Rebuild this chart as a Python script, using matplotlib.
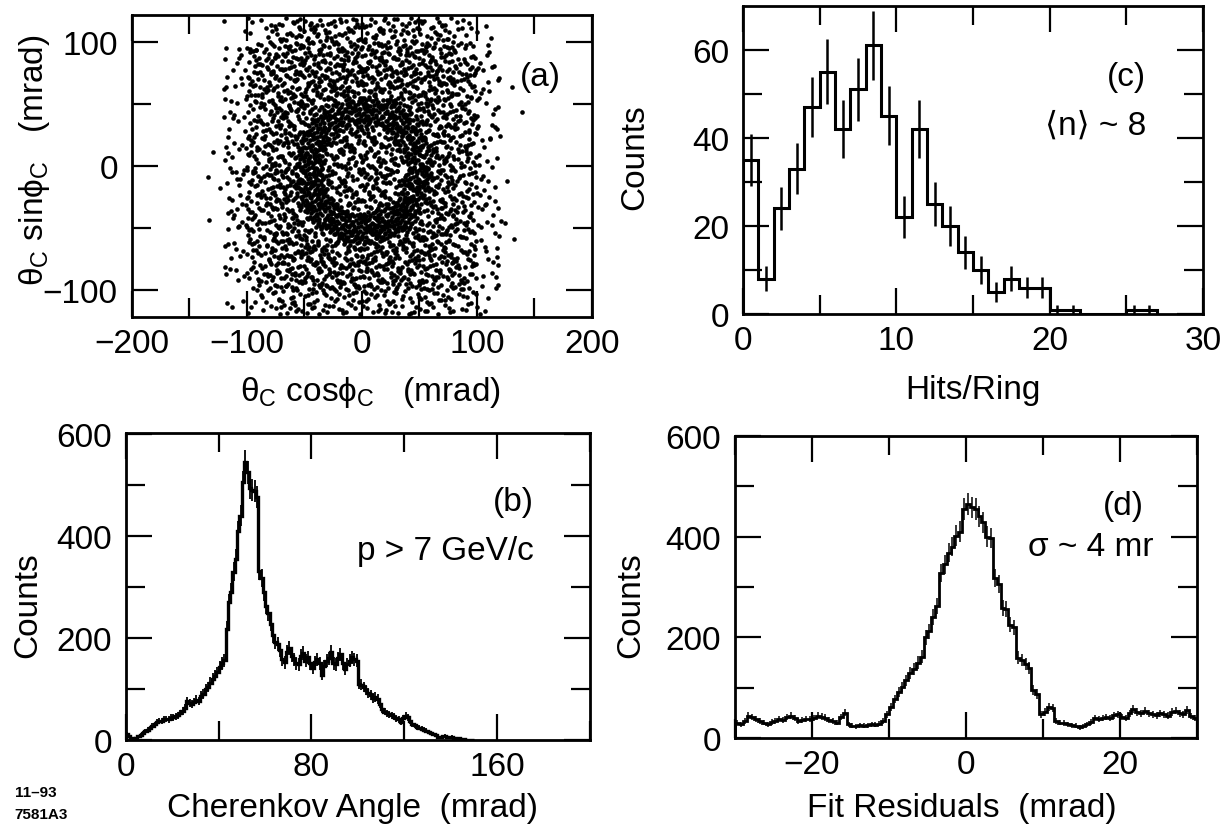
import numpy as np
import matplotlib.pyplot as plt

plt.rcParams['font.family'] = ['Liberation Sans', 'DejaVu Sans']
plt.rcParams['mathtext.fontset'] = 'custom'
plt.rcParams['mathtext.rm'] = 'Liberation Sans'
plt.rcParams['mathtext.it'] = 'Liberation Sans'
plt.rcParams['mathtext.default'] = 'regular'

# ---- (a) ring image: hits per 20x20 mrad cell, rows top (y=120) to bottom
cell_x_edges = np.arange(-140, 141, 20)
cell_y_edges = np.arange(120, -121, -20)
cell_counts = [
    [0, 2, 9, 16, 18, 18, 18, 18, 18, 18, 16, 9, 2, 0],
    [0, 6, 18, 25, 27, 27, 27, 27, 27, 27, 25, 18, 6, 1],
    [0, 7, 20, 27, 29, 29, 29, 29, 29, 29, 27, 20, 7, 1],
    [0, 8, 20, 27, 27, 25, 25, 25, 25, 27, 27, 20, 7, 1],
    [1, 8, 20, 27, 25, 25, 25, 25, 25, 25, 27, 20, 7, 0],
    [1, 8, 20, 27, 25, 25, 25, 25, 25, 25, 27, 19, 6, 0],
    [2, 8, 20, 27, 25, 25, 25, 25, 25, 25, 27, 19, 6, 1],
    [0, 8, 20, 27, 25, 25, 25, 25, 25, 25, 27, 19, 7, 0],
    [1, 7, 20, 27, 27, 25, 25, 25, 25, 27, 27, 19, 7, 1],
    [0, 7, 18, 27, 29, 29, 29, 29, 29, 29, 27, 19, 7, 0],
    [0, 6, 16, 25, 27, 27, 27, 27, 27, 27, 25, 18, 7, 1],
    [0, 2, 9, 14, 16, 16, 16, 16, 16, 16, 14, 9, 3, 0],
]
# extra hits on the Cherenkov ring, per 22.5 deg sector starting at +x
ring_center = (2, -3)
ring_radius = 48
ring_width = 24
ring_sector_counts = [30, 28, 30, 32, 30, 30, 34, 36, 36, 34, 36, 38, 40, 38, 36, 32]

# ---- (b) Cherenkov angle, 1 mrad bins from 0
cher_counts = [
    12, 7, 4, 2, 4, 7, 10, 13, 17, 20,
    23, 27, 30, 34, 37, 36, 40, 41, 40, 43,
    44, 46, 48, 52, 56, 62, 76, 72, 70, 74,
    78, 76, 86, 90, 99, 104, 112, 120, 126, 132,
    142, 150, 156, 218, 270, 290, 330, 355, 410, 440,
    505, 545, 525, 495, 490, 488, 476, 332, 318, 290,
    262, 248, 228, 205, 192, 187, 176, 158, 152, 172,
    180, 165, 158, 150, 148, 165, 170, 155, 162, 150,
    140, 152, 158, 150, 128, 145, 155, 160, 172, 150,
    148, 160, 168, 150, 138, 148, 155, 162, 158, 155,
    110, 108, 104, 98, 92, 88, 82, 84, 80, 70,
    60, 55, 52, 50, 48, 45, 42, 40, 35, 42,
    47, 44, 36, 30, 28, 25, 24, 22, 20, 18,
    16, 14, 12, 10, 6, 5, 7, 8, 6, 5,
    6, 3, 2, 3, 1, 1, 0, 0, 0, 0,
]

# ---- (c) hits per ring, unit bins from 0
hits_counts = [35, 8, 24, 33, 47, 55, 42, 51, 61, 45, 22, 42, 25, 20,
               14, 10, 5, 8, 6, 6, 1, 1, 0, 0, 0, 1, 1]

# ---- (d) fit residuals, 0.5 mrad bins from -30
resid_counts = [
    30, 28, 35, 45, 42, 38, 34, 31, 28, 32,
    35, 38, 37, 42, 45, 40, 35, 37, 38, 38,
    40, 45, 43, 41, 37, 35, 31, 42, 51, 28,
    25, 24, 26, 25, 26, 28, 27, 29, 35, 48,
    62, 78, 92, 102, 115, 130, 138, 150, 162, 200,
    212, 240, 262, 328, 345, 368, 380, 402, 410, 455,
    465, 458, 455, 440, 428, 400, 398, 318, 306, 258,
    256, 225, 220, 160, 155, 148, 140, 95, 88, 48,
    52, 62, 60, 34, 31, 30, 28, 26, 25, 22,
    24, 28, 32, 40, 38, 40, 42, 40, 46, 48,
    42, 40, 50, 58, 52, 50, 55, 50, 48, 46,
    50, 48, 45, 52, 55, 50, 48, 56, 44, 40,
]

FS = 24


def halton(n, base):
    # radical inverse of 1..n in the given base (deterministic, low discrepancy)
    i = np.arange(1, n + 1)
    out = np.zeros(n)
    f = 1.0 / base
    while np.any(i > 0):
        out += f * (i % base)
        i //= base
        f /= base
    return out


def style(ax, xmaj, xmin, ymaj, ymin):
    ax.set_xticks(xmaj)
    ax.set_xticks(xmin, minor=True)
    ax.set_yticks(ymaj)
    ax.set_yticks(ymin, minor=True)
    ax.tick_params(which='both', direction='in', top=True, right=True,
                   width=1.6, labelsize=FS)
    ax.tick_params(which='major', length=19)
    ax.tick_params(which='minor', length=14)
    ax.tick_params(axis='x', pad=8)
    ax.tick_params(axis='y', pad=10)
    for sp in ax.spines.values():
        sp.set_linewidth(2)


def fmt(v):
    return f'{v:g}'.replace('-', '\u2212')


fig = plt.figure(figsize=(12.27, 8.28), dpi=100)

# ---------------- (a)
# spread the per-cell and per-sector counts over the plane: quasi-uniform
# candidates, kept in proportion to the local hit density
counts = np.array(cell_counts, dtype=float)
cw = np.diff(cell_x_edges)[0]
ch = -np.diff(cell_y_edges)[0]
cell_dens = counts / (cw * ch)
nsec = len(ring_sector_counts)
sec_area = np.pi * ((ring_radius + ring_width / 2) ** 2
                    - (ring_radius - ring_width / 2) ** 2) / nsec
sec_dens = np.array(ring_sector_counts) / sec_area
dmax = cell_dens.max() + sec_dens.max()
x_lo, x_hi = cell_x_edges[0], cell_x_edges[-1]
y_lo, y_hi = cell_y_edges[-1], cell_y_edges[0]
ncand = int(dmax * (x_hi - x_lo) * (y_hi - y_lo))
cx = x_lo + (x_hi - x_lo) * halton(ncand, 2)
cy = y_lo + (y_hi - y_lo) * halton(ncand, 3)
keep = halton(ncand, 5)
col = np.clip(((cx - x_lo) // cw).astype(int), 0, counts.shape[1] - 1)
row = np.clip(((y_hi - cy) // ch).astype(int), 0, counts.shape[0] - 1)
dens = cell_dens[row, col]
dx, dy = cx - ring_center[0], cy - ring_center[1]
rr = np.hypot(dx, dy)
sec = ((np.arctan2(dy, dx) % (2 * np.pi)) / (2 * np.pi) * nsec).astype(int) % nsec
on_ring = np.abs(rr - ring_radius) < ring_width / 2
dens = dens + np.where(on_ring, sec_dens[sec], 0.0)
sel = keep < dens / dmax

ax = fig.add_axes([0.1073, 0.6159, 0.3751, 0.3647])
ax.scatter(cx[sel], cy[sel], s=11, c='black', marker='o', linewidths=0)
ax.set_xlim(-200, 200)
ax.set_ylim(-122, 122)
style(ax, [-200, -100, 0, 100, 200], [-150, -50, 50, 150],
      [-100, 0, 100], [-50, 50])
ax.set_xticklabels([fmt(v) for v in [-200, -100, 0, 100, 200]])
ax.set_yticklabels([fmt(v) for v in [-100, 0, 100]])
ax.set_xlabel(r'$θ_C$ cos$ϕ_C$   (mrad)', fontsize=FS)
ax.xaxis.set_label_coords(0.518, -0.19)
ax.set_ylabel(r'$θ_C$ sin$ϕ_C$   (mrad)', fontsize=FS)
ax.yaxis.set_label_coords(-0.174, 0.523)
ax.text(0.933, 0.795, '(a)', transform=ax.transAxes, fontsize=FS,
        ha='right', va='center')

# ---------------- (c)
ax = fig.add_axes([0.6055, 0.6196, 0.3749, 0.3723])
hits = np.array(hits_counts, dtype=float)
edges = np.arange(len(hits) + 1)
ax.stairs(hits, edges, color='black', lw=2.2)
cen = edges[:-1] + 0.5
m = hits > 0
ax.errorbar(cen[m], hits[m], yerr=np.sqrt(hits[m]), fmt='none',
            ecolor='black', elinewidth=1.8)
ax.set_xlim(0, 30)
ax.set_ylim(0, 70)
style(ax, [0, 10, 20, 30], [5, 15, 25], [0, 20, 40, 60], [10, 30, 50])
ax.set_xlabel('Hits/Ring', fontsize=FS)
ax.xaxis.set_label_coords(0.5, -0.195)
ax.set_ylabel('Counts', fontsize=FS)
ax.yaxis.set_label_coords(-0.202, 0.512)
ax.text(0.876, 0.77, '(c)', transform=ax.transAxes, fontsize=FS,
        ha='right', va='center')
ax.text(0.876, 0.613, '\u27e8n\u27e9 ~ 8', transform=ax.transAxes,
        fontsize=FS, ha='right', va='center')

# ---------------- (b)
ax = fig.add_axes([0.1024, 0.1054, 0.3786, 0.3704])
cher = np.array(cher_counts, dtype=float)
edges = np.arange(len(cher) + 1)
ax.stairs(cher, edges, color='black', lw=2.4)
cen = edges[:-1] + 0.5
m = cher > 0
ax.errorbar(cen[m], cher[m], yerr=np.sqrt(cher[m]), fmt='none',
            ecolor='black', elinewidth=1.3)
ax.set_xlim(0, 200)
ax.set_ylim(0, 602)
style(ax, [0, 80, 160], [40, 120, 200], [0, 200, 400, 600], [100, 300, 500])
ax.set_xlabel('Cherenkov Angle  (mrad)', fontsize=FS)
ax.xaxis.set_label_coords(0.489, -0.172)
ax.set_ylabel('Counts', fontsize=FS)
ax.yaxis.set_label_coords(-0.177, 0.442)
ax.text(0.879, 0.778, '(b)', transform=ax.transAxes, fontsize=FS,
        ha='right', va='center')
ax.text(0.879, 0.618, 'p > 7 GeV/c', transform=ax.transAxes, fontsize=FS,
        ha='right', va='center')

# ---------------- (d)
ax = fig.add_axes([0.599, 0.1071, 0.3765, 0.3655])
resid = np.array(resid_counts, dtype=float)
edges = -30 + 0.5 * np.arange(len(resid) + 1)
ax.stairs(resid, edges, color='black', lw=2.0)
cen = edges[:-1] + 0.25
ax.errorbar(cen, resid, yerr=np.sqrt(resid), fmt='none',
            ecolor='black', elinewidth=1.1)
ax.set_xlim(-30, 30)
ax.set_ylim(0, 600)
style(ax, [-20, 0, 20], [-30, -10, 10, 30], [0, 200, 400, 600],
      [100, 300, 500])
ax.set_xticklabels([fmt(v) for v in [-20, 0, 20]])
ax.set_xlabel('Fit Residuals  (mrad)', fontsize=FS)
ax.xaxis.set_label_coords(0.491, -0.178)
ax.set_ylabel('Counts', fontsize=FS)
ax.yaxis.set_label_coords(-0.193, 0.444)
ax.text(0.885, 0.768, '(d)', transform=ax.transAxes, fontsize=FS,
        ha='right', va='center')
ax.text(0.907, 0.635, '\u03c3 ~ 4 mr', transform=ax.transAxes, fontsize=FS,
        ha='right', va='center')

fig.text(0.012, 1 - 793 / 828, '11\u201393', fontsize=11, fontweight='bold',
         va='center')
fig.text(0.012, 1 - 815 / 828, '7581A3', fontsize=11, fontweight='bold',
         va='center')

fig.savefig('out.png', dpi=100)
